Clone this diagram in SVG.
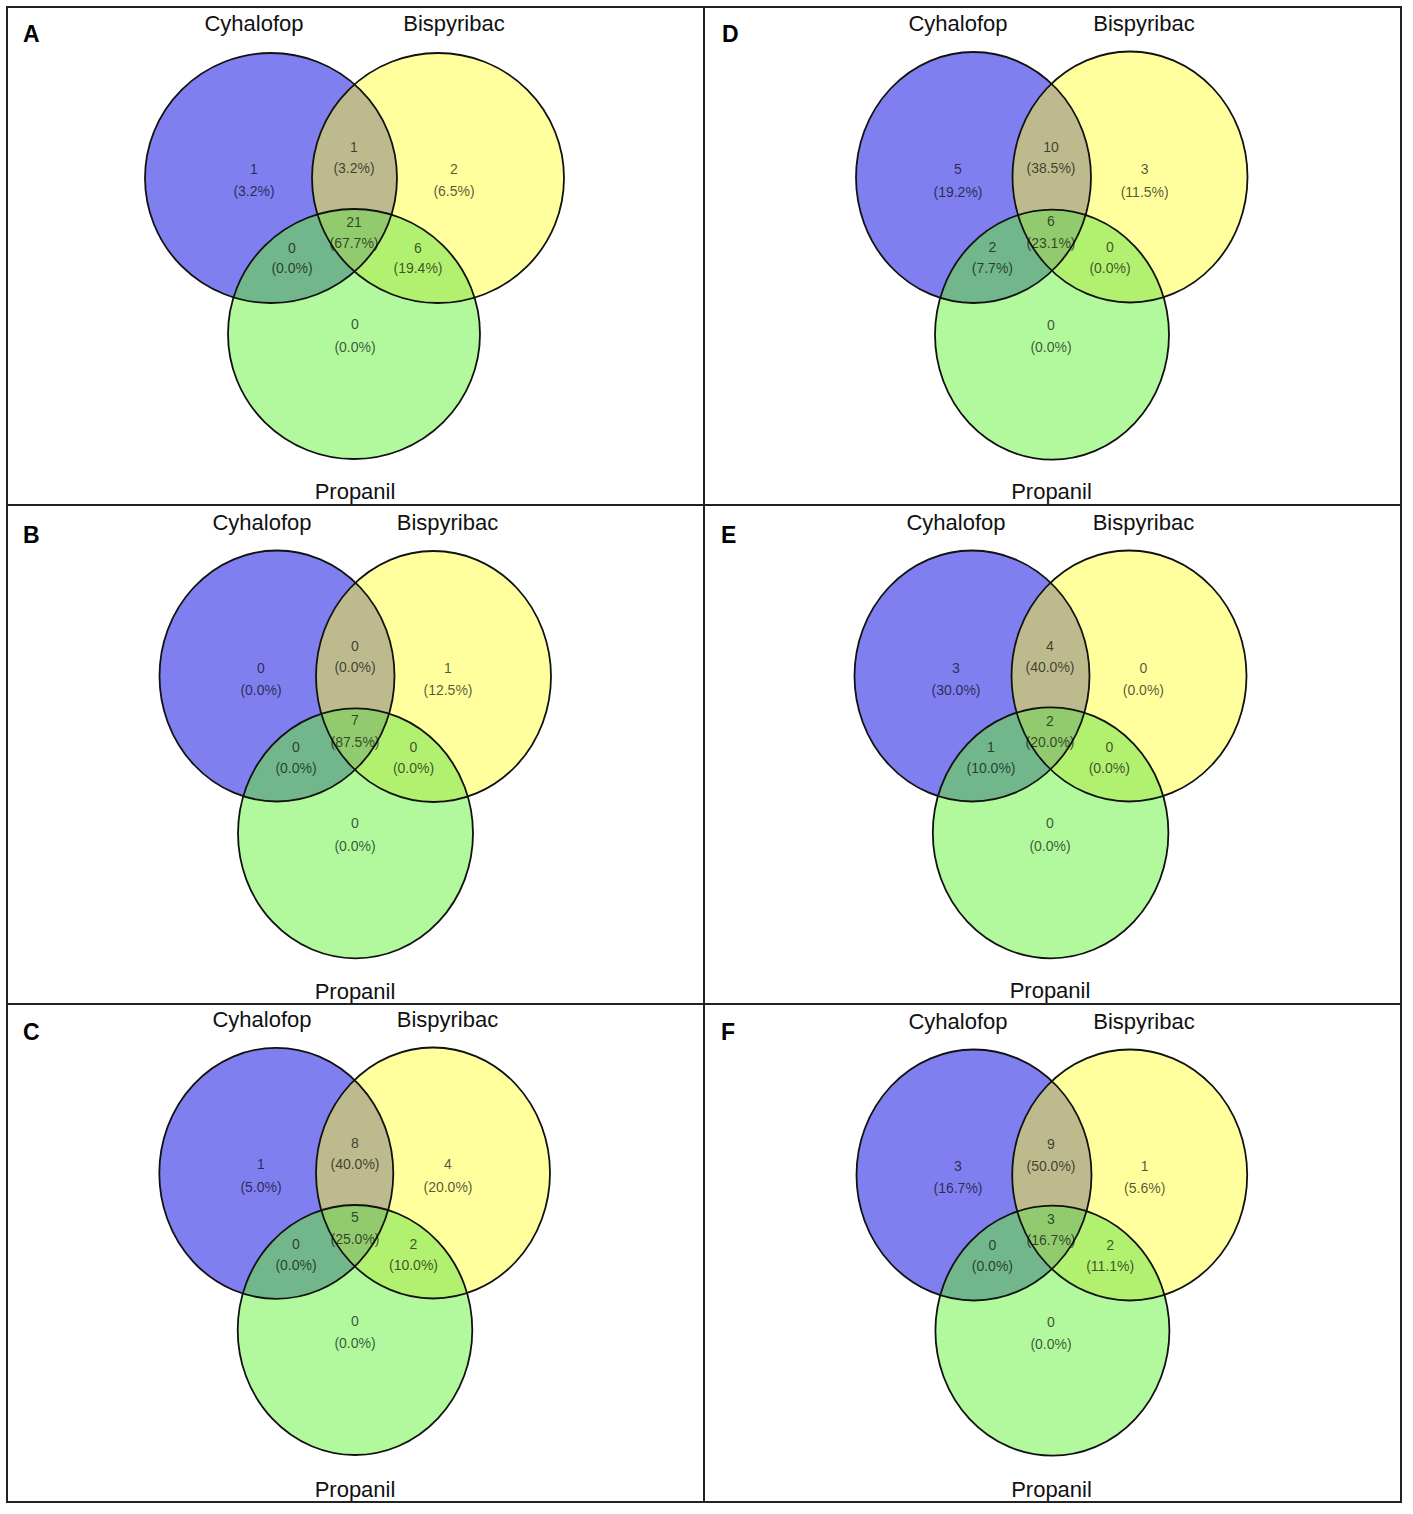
<svg xmlns="http://www.w3.org/2000/svg" width="1413" height="1514" viewBox="0 0 1413 1514">
<style>
.a{fill:#7F7FEF}.b{fill:#FFFF9E}.c{fill:#B1F99C}.ab{fill:#BDBB8D}.ac{fill:#72B68B}.bc{fill:#B2F070}.abc{fill:#92CB6E}
.o{fill:none;stroke:#111;stroke-width:1.8}
.n{font-family:"Liberation Sans",Arial,sans-serif;font-size:14px;fill:#000;fill-opacity:.68;text-anchor:middle}
.lab{font-family:"Liberation Sans",Arial,sans-serif;font-size:22px;fill:#111;text-anchor:middle}
.let{font-family:"Liberation Sans",Arial,sans-serif;font-size:23px;font-weight:bold;fill:#000}
.grid{fill:none;stroke:#222;stroke-width:2}
</style>
<defs>
<clipPath id="cA_A"><ellipse cx="271" cy="178" rx="126" ry="125"/></clipPath>
<clipPath id="cB_A"><ellipse cx="438" cy="178" rx="126" ry="125"/></clipPath>
<clipPath id="cA_B"><ellipse cx="277" cy="676" rx="117.5" ry="125.5"/></clipPath>
<clipPath id="cB_B"><ellipse cx="433.5" cy="676.5" rx="117.5" ry="125.5"/></clipPath>
<clipPath id="cA_C"><ellipse cx="276.3" cy="1173.3" rx="117" ry="125.5"/></clipPath>
<clipPath id="cB_C"><ellipse cx="433" cy="1173" rx="117" ry="125.5"/></clipPath>
<clipPath id="cA_D"><ellipse cx="973.5" cy="177.5" rx="117.5" ry="125.5"/></clipPath>
<clipPath id="cB_D"><ellipse cx="1130" cy="177" rx="117.5" ry="125.5"/></clipPath>
<clipPath id="cA_E"><ellipse cx="972" cy="676" rx="117.5" ry="125.5"/></clipPath>
<clipPath id="cB_E"><ellipse cx="1129" cy="676" rx="117.5" ry="125.5"/></clipPath>
<clipPath id="cA_F"><ellipse cx="974" cy="1175" rx="117.5" ry="125.5"/></clipPath>
<clipPath id="cB_F"><ellipse cx="1129.7" cy="1175" rx="117.5" ry="125.5"/></clipPath>
</defs>
<rect width="1413" height="1514" fill="#fff"/>

<g id="panel-A">
<ellipse class="a" cx="271" cy="178" rx="126" ry="125"/>
<ellipse class="b" cx="438" cy="178" rx="126" ry="125"/>
<ellipse class="c" cx="354" cy="334" rx="126" ry="125"/>
<ellipse class="ab" cx="438" cy="178" rx="126" ry="125" clip-path="url(#cA_A)"/>
<ellipse class="ac" cx="354" cy="334" rx="126" ry="125" clip-path="url(#cA_A)"/>
<ellipse class="bc" cx="354" cy="334" rx="126" ry="125" clip-path="url(#cB_A)"/>
<g clip-path="url(#cA_A)"><ellipse class="abc" cx="354" cy="334" rx="126" ry="125" clip-path="url(#cB_A)"/></g>
<ellipse class="o" cx="271" cy="178" rx="126" ry="125"/>
<ellipse class="o" cx="438" cy="178" rx="126" ry="125"/>
<ellipse class="o" cx="354" cy="334" rx="126" ry="125"/>
<text class="let" x="23" y="42">A</text>
<text class="lab" x="254" y="31">Cyhalofop</text>
<text class="lab" x="454" y="31">Bispyribac</text>
<text class="lab" x="355" y="499">Propanil</text>
<text class="n" x="254" y="174">1</text><text class="n" x="254" y="196">(3.2%)</text>
<text class="n" x="354" y="152">1</text><text class="n" x="354" y="173">(3.2%)</text>
<text class="n" x="454" y="174">2</text><text class="n" x="454" y="196">(6.5%)</text>
<text class="n" x="354" y="227">21</text><text class="n" x="354" y="248">(67.7%)</text>
<text class="n" x="292" y="253">0</text><text class="n" x="292" y="273">(0.0%)</text>
<text class="n" x="418" y="253">6</text><text class="n" x="418" y="273">(19.4%)</text>
<text class="n" x="355" y="329">0</text><text class="n" x="355" y="352">(0.0%)</text>
</g>

<g id="panel-B">
<ellipse class="a" cx="277" cy="676" rx="117.5" ry="125.5"/>
<ellipse class="b" cx="433.5" cy="676.5" rx="117.5" ry="125.5"/>
<ellipse class="c" cx="355.5" cy="833.3" rx="117.5" ry="125"/>
<ellipse class="ab" cx="433.5" cy="676.5" rx="117.5" ry="125.5" clip-path="url(#cA_B)"/>
<ellipse class="ac" cx="355.5" cy="833.3" rx="117.5" ry="125" clip-path="url(#cA_B)"/>
<ellipse class="bc" cx="355.5" cy="833.3" rx="117.5" ry="125" clip-path="url(#cB_B)"/>
<g clip-path="url(#cA_B)"><ellipse class="abc" cx="355.5" cy="833.3" rx="117.5" ry="125" clip-path="url(#cB_B)"/></g>
<ellipse class="o" cx="277" cy="676" rx="117.5" ry="125.5"/>
<ellipse class="o" cx="433.5" cy="676.5" rx="117.5" ry="125.5"/>
<ellipse class="o" cx="355.5" cy="833.3" rx="117.5" ry="125"/>
<text class="let" x="23" y="543">B</text>
<text class="lab" x="262" y="530">Cyhalofop</text>
<text class="lab" x="447.5" y="530">Bispyribac</text>
<text class="lab" x="355" y="999">Propanil</text>
<text class="n" x="261" y="672.5">0</text><text class="n" x="261" y="695">(0.0%)</text>
<text class="n" x="355" y="650.5">0</text><text class="n" x="355" y="671.5">(0.0%)</text>
<text class="n" x="448" y="672.5">1</text><text class="n" x="448" y="695">(12.5%)</text>
<text class="n" x="355" y="725">7</text><text class="n" x="355" y="747">(87.5%)</text>
<text class="n" x="296" y="751.5">0</text><text class="n" x="296" y="772.5">(0.0%)</text>
<text class="n" x="413.5" y="751.5">0</text><text class="n" x="413.5" y="772.5">(0.0%)</text>
<text class="n" x="355" y="828">0</text><text class="n" x="355" y="850.5">(0.0%)</text>
</g>

<g id="panel-C">
<ellipse class="a" cx="276.3" cy="1173.3" rx="117" ry="125.5"/>
<ellipse class="b" cx="433" cy="1173" rx="117" ry="125.5"/>
<ellipse class="c" cx="355" cy="1330" rx="117.3" ry="125"/>
<ellipse class="ab" cx="433" cy="1173" rx="117" ry="125.5" clip-path="url(#cA_C)"/>
<ellipse class="ac" cx="355" cy="1330" rx="117.3" ry="125" clip-path="url(#cA_C)"/>
<ellipse class="bc" cx="355" cy="1330" rx="117.3" ry="125" clip-path="url(#cB_C)"/>
<g clip-path="url(#cA_C)"><ellipse class="abc" cx="355" cy="1330" rx="117.3" ry="125" clip-path="url(#cB_C)"/></g>
<ellipse class="o" cx="276.3" cy="1173.3" rx="117" ry="125.5"/>
<ellipse class="o" cx="433" cy="1173" rx="117" ry="125.5"/>
<ellipse class="o" cx="355" cy="1330" rx="117.3" ry="125"/>
<text class="let" x="23" y="1040">C</text>
<text class="lab" x="262" y="1027">Cyhalofop</text>
<text class="lab" x="447.5" y="1027">Bispyribac</text>
<text class="lab" x="355" y="1497">Propanil</text>
<text class="n" x="261" y="1169">1</text><text class="n" x="261" y="1191.5">(5.0%)</text>
<text class="n" x="355" y="1147.5">8</text><text class="n" x="355" y="1169">(40.0%)</text>
<text class="n" x="448" y="1169">4</text><text class="n" x="448" y="1191.5">(20.0%)</text>
<text class="n" x="355" y="1222">5</text><text class="n" x="355" y="1244">(25.0%)</text>
<text class="n" x="296" y="1249">0</text><text class="n" x="296" y="1270">(0.0%)</text>
<text class="n" x="413.5" y="1249">2</text><text class="n" x="413.5" y="1270">(10.0%)</text>
<text class="n" x="355" y="1326">0</text><text class="n" x="355" y="1348">(0.0%)</text>
</g>

<g id="panel-D">
<ellipse class="a" cx="973.5" cy="177.5" rx="117.5" ry="125.5"/>
<ellipse class="b" cx="1130" cy="177" rx="117.5" ry="125.5"/>
<ellipse class="c" cx="1052" cy="334.7" rx="117" ry="125"/>
<ellipse class="ab" cx="1130" cy="177" rx="117.5" ry="125.5" clip-path="url(#cA_D)"/>
<ellipse class="ac" cx="1052" cy="334.7" rx="117" ry="125" clip-path="url(#cA_D)"/>
<ellipse class="bc" cx="1052" cy="334.7" rx="117" ry="125" clip-path="url(#cB_D)"/>
<g clip-path="url(#cA_D)"><ellipse class="abc" cx="1052" cy="334.7" rx="117" ry="125" clip-path="url(#cB_D)"/></g>
<ellipse class="o" cx="973.5" cy="177.5" rx="117.5" ry="125.5"/>
<ellipse class="o" cx="1130" cy="177" rx="117.5" ry="125.5"/>
<ellipse class="o" cx="1052" cy="334.7" rx="117" ry="125"/>
<text class="let" x="722" y="42">D</text>
<text class="lab" x="958" y="31">Cyhalofop</text>
<text class="lab" x="1144" y="31">Bispyribac</text>
<text class="lab" x="1051.5" y="499">Propanil</text>
<text class="n" x="958" y="174">5</text><text class="n" x="958" y="196.5">(19.2%)</text>
<text class="n" x="1051" y="151.5">10</text><text class="n" x="1051" y="173">(38.5%)</text>
<text class="n" x="1144.7" y="174">3</text><text class="n" x="1144.7" y="196.5">(11.5%)</text>
<text class="n" x="1051" y="226">6</text><text class="n" x="1051" y="248">(23.1%)</text>
<text class="n" x="992.4" y="252">2</text><text class="n" x="992.4" y="273">(7.7%)</text>
<text class="n" x="1110" y="252">0</text><text class="n" x="1110" y="273">(0.0%)</text>
<text class="n" x="1051" y="330">0</text><text class="n" x="1051" y="352">(0.0%)</text>
</g>

<g id="panel-E">
<ellipse class="a" cx="972" cy="676" rx="117.5" ry="125.5"/>
<ellipse class="b" cx="1129" cy="676" rx="117.5" ry="125.5"/>
<ellipse class="c" cx="1050.6" cy="832.8" rx="117.8" ry="125.5"/>
<ellipse class="ab" cx="1129" cy="676" rx="117.5" ry="125.5" clip-path="url(#cA_E)"/>
<ellipse class="ac" cx="1050.6" cy="832.8" rx="117.8" ry="125.5" clip-path="url(#cA_E)"/>
<ellipse class="bc" cx="1050.6" cy="832.8" rx="117.8" ry="125.5" clip-path="url(#cB_E)"/>
<g clip-path="url(#cA_E)"><ellipse class="abc" cx="1050.6" cy="832.8" rx="117.8" ry="125.5" clip-path="url(#cB_E)"/></g>
<ellipse class="o" cx="972" cy="676" rx="117.5" ry="125.5"/>
<ellipse class="o" cx="1129" cy="676" rx="117.5" ry="125.5"/>
<ellipse class="o" cx="1050.6" cy="832.8" rx="117.8" ry="125.5"/>
<text class="let" x="721" y="543">E</text>
<text class="lab" x="956" y="530">Cyhalofop</text>
<text class="lab" x="1143.4" y="530">Bispyribac</text>
<text class="lab" x="1050" y="998">Propanil</text>
<text class="n" x="956" y="672.5">3</text><text class="n" x="956" y="695">(30.0%)</text>
<text class="n" x="1050" y="650.5">4</text><text class="n" x="1050" y="671.5">(40.0%)</text>
<text class="n" x="1143.4" y="672.5">0</text><text class="n" x="1143.4" y="695">(0.0%)</text>
<text class="n" x="1050" y="725.5">2</text><text class="n" x="1050" y="746.5">(20.0%)</text>
<text class="n" x="991" y="751.5">1</text><text class="n" x="991" y="772.5">(10.0%)</text>
<text class="n" x="1109.3" y="751.5">0</text><text class="n" x="1109.3" y="772.5">(0.0%)</text>
<text class="n" x="1050" y="828">0</text><text class="n" x="1050" y="850.5">(0.0%)</text>
</g>

<g id="panel-F">
<ellipse class="a" cx="974" cy="1175" rx="117.5" ry="125.5"/>
<ellipse class="b" cx="1129.7" cy="1175" rx="117.5" ry="125.5"/>
<ellipse class="c" cx="1052.4" cy="1330.7" rx="117" ry="125"/>
<ellipse class="ab" cx="1129.7" cy="1175" rx="117.5" ry="125.5" clip-path="url(#cA_F)"/>
<ellipse class="ac" cx="1052.4" cy="1330.7" rx="117" ry="125" clip-path="url(#cA_F)"/>
<ellipse class="bc" cx="1052.4" cy="1330.7" rx="117" ry="125" clip-path="url(#cB_F)"/>
<g clip-path="url(#cA_F)"><ellipse class="abc" cx="1052.4" cy="1330.7" rx="117" ry="125" clip-path="url(#cB_F)"/></g>
<ellipse class="o" cx="974" cy="1175" rx="117.5" ry="125.5"/>
<ellipse class="o" cx="1129.7" cy="1175" rx="117.5" ry="125.5"/>
<ellipse class="o" cx="1052.4" cy="1330.7" rx="117" ry="125"/>
<text class="let" x="721" y="1040">F</text>
<text class="lab" x="958" y="1029">Cyhalofop</text>
<text class="lab" x="1144" y="1029">Bispyribac</text>
<text class="lab" x="1051.5" y="1497">Propanil</text>
<text class="n" x="958" y="1170.5">3</text><text class="n" x="958" y="1193">(16.7%)</text>
<text class="n" x="1051" y="1149">9</text><text class="n" x="1051" y="1170.5">(50.0%)</text>
<text class="n" x="1144.7" y="1170.5">1</text><text class="n" x="1144.7" y="1193">(5.6%)</text>
<text class="n" x="1051" y="1224">3</text><text class="n" x="1051" y="1245">(16.7%)</text>
<text class="n" x="992.4" y="1250">0</text><text class="n" x="992.4" y="1271">(0.0%)</text>
<text class="n" x="1110.2" y="1250">2</text><text class="n" x="1110.2" y="1271">(11.1%)</text>
<text class="n" x="1051" y="1326.5">0</text><text class="n" x="1051" y="1349">(0.0%)</text>
</g>

<g id="grid">
<rect class="grid" x="7" y="7" width="1394" height="1495"/>
<line class="grid" x1="704" y1="7" x2="704" y2="1502"/>
<line class="grid" x1="7" y1="505" x2="1401" y2="505"/>
<line class="grid" x1="7" y1="1004" x2="1401" y2="1004"/>
</g>
</svg>
